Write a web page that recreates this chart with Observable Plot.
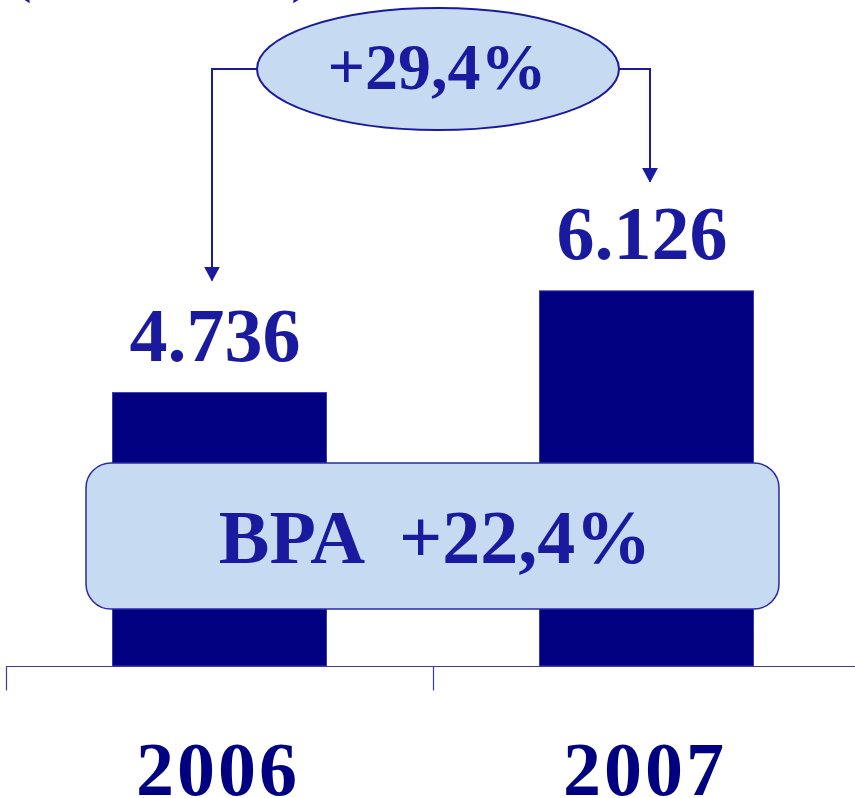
<!DOCTYPE html>
<html>
<head>
<meta charset="utf-8">
<script src="https://cdn.jsdelivr.net/npm/d3@7"></script>
<script src="https://cdn.jsdelivr.net/npm/@observablehq/plot@0.6"></script>
<style>
  html, body { margin: 0; padding: 0; background: #fff; }
  svg { display: block; }
</style>
</head>
<body>
<div id="chart"></div>
<script>
const years = ["2006", "2007"];
const values = [4736, 6126];
const valueLabels = ["4.736", "6.126"];
const growthLabel = "+29,4%";
const bpaLabel = "BPA  +22,4%";

const data = years.map((y, i) => ({year: y, value: values[i], label: valueLabels[i]}));

const navy = "#000080";
const blue = "#1a1a9e";
const light = "#c6dbf2";
const font = "'Liberation Serif', 'Times New Roman', serif";

const plot = Plot.plot({
  width: 855,
  height: 798,
  marginTop: 0,
  marginLeft: 6,
  marginRight: 0,
  marginBottom: 132,
  x: {type: "band", domain: years, range: [6, 860], padding: 0, axis: null},
  y: {domain: [1000, 10100], range: [666, 0], axis: null},
  style: {fontFamily: font, background: "white"},
  marks: [
    Plot.barY(data, {x: "year", y1: 1000, y2: "value", fill: navy, stroke: "#3b3bb0", strokeWidth: 1, insetLeft: 106.5, insetRight: 106.5}),
    Plot.ruleY([1000], {stroke: "#3a3aae", strokeWidth: 1.2}),
    Plot.link(years, {x1: d => d, x2: d => d, y1: 1000, y2: 672, dx: -213.5, stroke: "#3a3aae", strokeWidth: 1.2}),
    Plot.text(data, {x: "year", y: 1000, text: "year", dy: 128, lineAnchor: "bottom", fill: navy, fontSize: 76, fontWeight: "bold", fontFamily: font, textAnchor: "middle", dx: -2, letterSpacing: 3}),
    Plot.text(data, {x: "year", y: "value", text: "label", dy: -32, lineAnchor: "bottom", fill: blue, fontSize: 76, fontWeight: "bold", fontFamily: font, dx: -5})
  ]
});

document.getElementById("chart").appendChild(plot);

// letter spacing for the year labels
d3.select(plot).selectAll("text").filter(function() { return /^200\d$/.test(this.textContent); })
  .style("letter-spacing", "3px");

// Annotations placed with the plot's scales
const ys = plot.scale("y");
const svg = d3.select(plot);

const g = svg.append("g").attr("class", "annotations");

// partial parentheses of a cut-off heading
g.append("text").attr("x", 20).attr("y", -12).attr("font-family", font).attr("font-size", 72)
  .attr("fill", blue).text("(");
g.append("text").attr("x", 303).attr("y", -12).attr("font-family", font).attr("font-size", 72)
  .attr("fill", blue).text(")");

// defs: arrow marker pointing down
const defs = svg.append("defs");
defs.append("marker").attr("id", "arr").attr("viewBox", "0 0 16 15")
  .attr("refX", 8).attr("refY", 14).attr("markerWidth", 16).attr("markerHeight", 15)
  .attr("markerUnits", "userSpaceOnUse").attr("orient", "0")
  .append("path").attr("d", "M0,0 L16,0 L8,15 Z").attr("fill", blue);

const ecx = 438, ecy = 69, erx = 181, ery = 61;
const tip0 = ys.apply(values[0]) - 112;
const tip1 = ys.apply(values[1]) - 109;

// connectors
g.append("path")
  .attr("d", `M${ecx - erx},${ecy} H212 V${tip0}`)
  .attr("fill", "none").attr("stroke", blue).attr("stroke-width", 2)
  .attr("marker-end", "url(#arr)");
g.append("path")
  .attr("d", `M${ecx + erx},${ecy} H650 V${tip1}`)
  .attr("fill", "none").attr("stroke", blue).attr("stroke-width", 2)
  .attr("marker-end", "url(#arr)");

// ellipse
g.append("ellipse").attr("cx", ecx).attr("cy", ecy).attr("rx", erx).attr("ry", ery)
  .attr("fill", light).attr("stroke", blue).attr("stroke-width", 2);
g.append("text").attr("x", 437).attr("y", 89).attr("text-anchor", "middle")
  .attr("font-family", font).attr("font-size", 66).attr("font-weight", "bold")
  .attr("fill", blue).text(growthLabel);

// rounded box
g.append("rect").attr("x", 86).attr("y", 463).attr("width", 693).attr("height", 146)
  .attr("rx", 25).attr("ry", 25).attr("fill", light).attr("stroke", "#2a2aa6").attr("stroke-width", 1.5);
g.append("text").attr("x", 435).attr("y", 563).attr("text-anchor", "middle")
  .attr("font-family", font).attr("font-size", 76).attr("font-weight", "bold")
  .attr("fill", blue).attr("xml:space", "preserve").style("white-space", "pre").text(bpaLabel);
</script>
</body>
</html>
